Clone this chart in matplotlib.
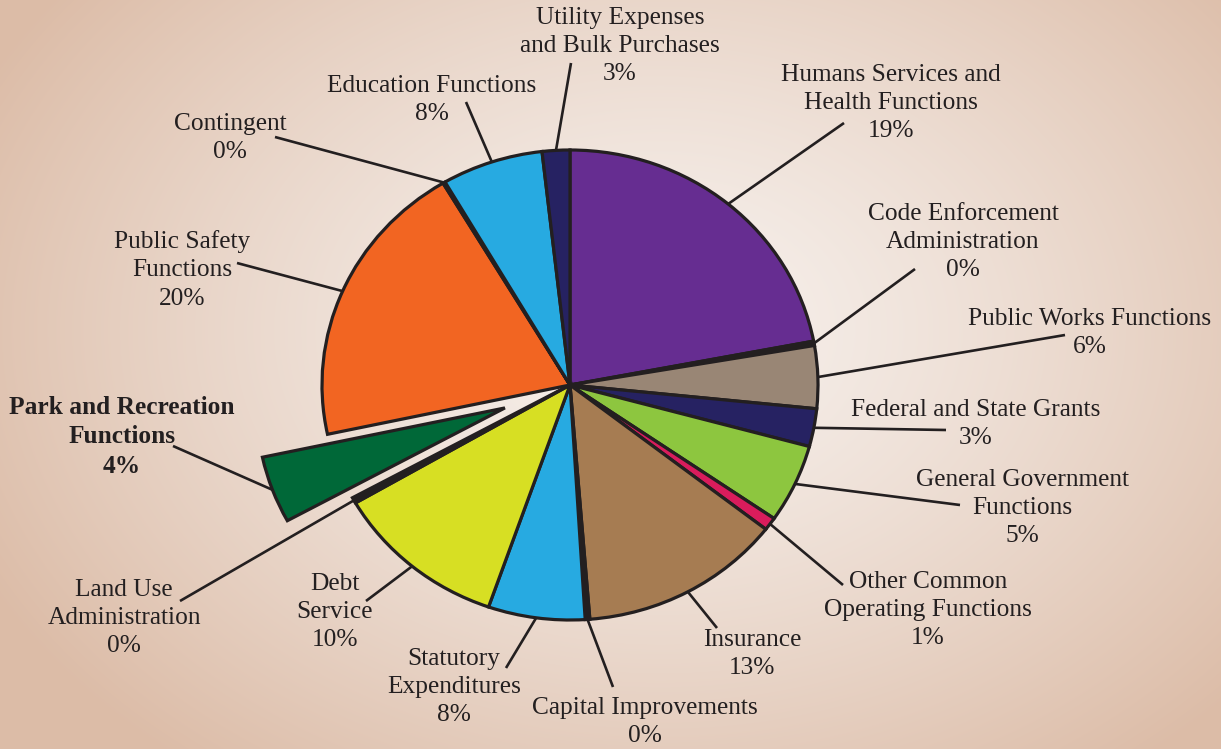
"""Budget share pie chart with leader-line labels on a warm radial backdrop."""

import matplotlib
matplotlib.use("Agg")
import matplotlib.pyplot as plt
import numpy as np
from matplotlib.colors import to_rgb

# --- Data (clockwise from 12 o'clock) ---
names = [
    "Humans Services and\nHealth Functions",
    "Code Enforcement\nAdministration",
    "Public Works Functions",
    "Federal and State Grants",
    "General Government\nFunctions",
    "Other Common\nOperating Functions",
    "Insurance",
    "Capital Improvements",
    "Statutory\nExpenditures",
    "Debt\nService",
    "Land Use\nAdministration",
    "Park and Recreation\nFunctions",
    "Public Safety\nFunctions",
    "Contingent",
    "Education Functions",
    "Utility Expenses\nand Bulk Purchases",
]
shares = [22.0, 0.3, 4.3, 2.6, 5.4, 0.9, 13.2, 0.3, 6.3, 11.3, 0.4, 4.6, 19.8, 0.15, 6.6, 1.8]
pct_labels = ["19%", "0%", "6%", "3%", "5%", "1%", "13%", "0%", "8%", "10%",
              "0%", "4%", "20%", "0%", "8%", "3%"]

INK = "#231f20"
colors = ["#662d91", INK, "#998675", "#262262", "#8dc63f", "#d91c5c", "#a67c52", INK,
          "#27aae1", "#d7df23", INK, "#006838", "#f26522", INK, "#27aae1", "#262262"]
explode = [0.28 if n.startswith("Park") else 0 for n in names]

# label block centres and leader end points, in image pixels
label_xy = [(891, 103), (963, 242), (1090, 333), (976, 424), (1022, 508), (928, 610),
            (752, 654), (645, 722), (454, 687), (335, 612), (124, 618), (122, 437),
            (182, 270), (230, 138), (432, 100), (620, 46)]
leader_end = [(844, 123), (915, 269), (1065, 335), (946, 430), (960, 505), (843, 585),
              (717, 628), (613, 687), (506, 668), (366, 601), (180, 601), (173, 446),
              (237, 263), (275, 137), (466, 102), (571, 63)]

W, H = 1221, 749
CX, CY, RX, RY = 570, 385, 248, 235  # pie centre / radii in pixels


def px(p):
    return ((p[0] - CX) / RX, (CY - p[1]) / RY)


fig = plt.figure(figsize=(W / 100, H / 100), dpi=100)

# background: soft radial gradient
bg = fig.add_axes([0, 0, 1, 1])
yy, xx = np.mgrid[0:H, 0:W]
d = np.sqrt(((xx - 660) / 760.0) ** 2 + ((yy - 330) / 560.0) ** 2)
d = np.clip(d, 0, 1) ** 1.3
inner, outer = np.array(to_rgb("#f7f1ed")), np.array(to_rgb("#dcbca7"))
img = inner[None, None, :] * (1 - d[..., None]) + outer[None, None, :] * d[..., None]
bg.imshow(img, aspect="auto", extent=(0, W, H, 0))
bg.axis("off")

ax = fig.add_axes([0, 0, 1, 1])
ax.patch.set_alpha(0)
wedges, _ = ax.pie(
    shares,
    colors=colors,
    explode=explode,
    startangle=90,
    counterclock=False,
    wedgeprops=dict(edgecolor=INK, linewidth=2.3, joinstyle="miter"),
)
ax.set_aspect("auto")
ax.set_xlim(-CX / RX, (W - CX) / RX)
ax.set_ylim(-(H - CY) / RY, CY / RY)
ax.axis("off")

for w, name, pct, lxy, end in zip(wedges, names, pct_labels, label_xy, leader_end):
    mid = np.deg2rad((w.theta1 + w.theta2) / 2)
    cx, cy = w.center
    start = (cx + np.cos(mid), cy + np.sin(mid))
    ex, ey = px(end)
    ax.plot([start[0], ex], [start[1], ey], color=INK, linewidth=1.9,
            solid_capstyle="butt")
    tx, ty = px(lxy)
    bold = name.startswith("Park")
    ax.text(tx, ty, f"{name}\n{pct}", ha="center", va="center",
            multialignment="center", fontsize=18.3, color=INK,
            family="Liberation Serif", fontweight="bold" if bold else "normal",
            linespacing=1.36)

fig.savefig("out.png", dpi=100)
